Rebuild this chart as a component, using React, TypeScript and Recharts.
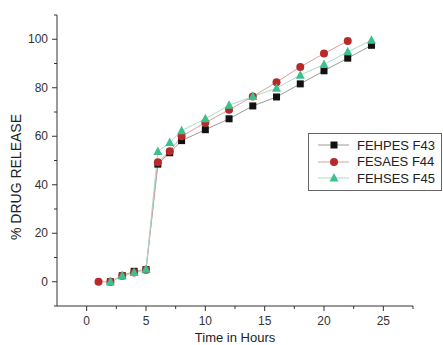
import { LineChart, Line, XAxis, YAxis, Legend } from 'recharts';

const timeF43 = [2, 3, 4, 5, 6, 7, 8, 10, 12, 14, 16, 18, 20, 22, 24];
const releaseF43 = [0, 2.5, 4.3, 5, 48.5, 53.2, 58.2, 62.7, 67.2, 72.5, 76.2, 81.6, 87, 92.2, 97.5];

const timeF44 = [1, 2, 3, 4, 5, 6, 7, 8, 10, 12, 14, 16, 18, 20, 22];
const releaseF44 = [0, 0, 2.5, 3.8, 5, 49.3, 53.8, 60, 65.6, 70.9, 76.4, 82.3, 88.6, 94.1, 99.3];

const timeF45 = [2, 3, 4, 5, 6, 7, 8, 10, 12, 14, 16, 18, 20, 22, 24];
const releaseF45 = [0, 2.5, 3.8, 5.2, 53.7, 57.4, 62.3, 67.2, 72.8, 76.4, 79.8, 85.2, 89.6, 94.8, 99.6];

const xTicks = [0, 2.5, 5, 7.5, 10, 12.5, 15, 17.5, 20, 22.5, 25, 27.5];
const yTicks = [-10, 0, 10, 20, 30, 40, 50, 60, 70, 80, 90, 100, 110];
const xLabels = [0, 5, 10, 15, 20, 25];
const yLabels = [0, 20, 40, 60, 80, 100];

const FONT = '"Liberation Sans", Arial, sans-serif';
const AXIS = '#333';

const toRows = (t: number[], v: number[]) => t.map((x, i) => ({ t: x, v: v[i] }));

const seriesList = [
  { name: 'FEHPES F43', data: toRows(timeF43, releaseF43), line: '#9a9a9a', fill: '#111111', shape: 'square' },
  { name: 'FESAES F44', data: toRows(timeF44, releaseF44), line: '#d9a0a0', fill: '#b82a2a', shape: 'circle' },
  { name: 'FEHSES F45', data: toRows(timeF45, releaseF45), line: '#a8dcc6', fill: '#3cc08c', shape: 'triangle' },
];

function Marker({ cx, cy, shape, fill }: { cx: number; cy: number; shape: string; fill: string }) {
  if (cx == null || cy == null) return null;
  if (shape === 'square') return <rect x={cx - 3.5} y={cy - 3.5} width={7} height={7} fill={fill} />;
  if (shape === 'circle') return <circle cx={cx} cy={cy} r={4} fill={fill} />;
  return <polygon points={`${cx},${cy - 5} ${cx - 4.5},${cy + 3.5} ${cx + 4.5},${cy + 3.5}`} fill={fill} />;
}

function XTick({ x, y, payload }: any) {
  const major = xLabels.includes(payload.value);
  return (
    <g>
      <line x1={x} x2={x} y1={y} y2={y + (major ? 5 : 3)} stroke={AXIS} />
      {major && (
        <text x={x} y={y + 19} textAnchor="middle" fontSize={12} fill="#333" fontFamily={FONT}>
          {payload.value}
        </text>
      )}
    </g>
  );
}

function YTick({ x, y, payload }: any) {
  const major = yLabels.includes(payload.value);
  return (
    <g>
      <line x1={x} x2={x - (major ? 5 : 3)} y1={y} y2={y} stroke={AXIS} />
      {major && (
        <text x={x - 9} y={y + 4} textAnchor="end" fontSize={12} fill="#333" fontFamily={FONT}>
          {payload.value}
        </text>
      )}
    </g>
  );
}

function LegendBox() {
  return (
    <div style={{ border: '1px solid #666', background: '#fff', width: 134, padding: '3px 0', boxSizing: 'border-box' }}>
      {seriesList.map((s) => (
        <div key={s.name} style={{ display: 'flex', alignItems: 'center', height: 16.5 }}>
          <svg width={48} height={14}>
            <line x1={9} x2={40} y1={7} y2={7} stroke={s.line} />
            <Marker cx={25} cy={7} shape={s.shape} fill={s.fill} />
          </svg>
          <span style={{ fontFamily: FONT, fontSize: 13, color: '#222' }}>{s.name}</span>
        </div>
      ))}
    </div>
  );
}

export default function App() {
  return (
    <div style={{ position: 'absolute', left: 0, top: 0, width: 443, height: 345, background: '#fff', overflow: 'hidden' }}>
      <LineChart width={443} height={345} margin={{ top: 15, right: 30, bottom: 0, left: 0 }}>
        <XAxis
          type="number"
          dataKey="t"
          domain={[-2.5, 27.5]}
          ticks={xTicks}
          interval={0}
          height={39}
          axisLine={{ stroke: AXIS }}
          tickLine={false}
          tickSize={0}
          tickMargin={0}
          tick={<XTick />}
        />
        <YAxis
          type="number"
          dataKey="v"
          domain={[-10, 110]}
          ticks={yTicks}
          interval={0}
          width={57}
          axisLine={{ stroke: AXIS }}
          tickLine={false}
          tickSize={0}
          tickMargin={0}
          tick={<YTick />}
        />
        <Legend
          layout="vertical"
          align="center"
          verticalAlign="middle"
          content={() => <LegendBox />}
          wrapperStyle={{ position: 'absolute', left: 308, top: 133, width: 135 }}
        />
        {seriesList.map((s) => (
          <Line
            key={s.name}
            data={s.data}
            dataKey="v"
            name={s.name}
            stroke={s.line}
            strokeWidth={1}
            dot={(p: any) => <Marker key={p.index} cx={p.cx} cy={p.cy} shape={s.shape} fill={s.fill} />}
            isAnimationActive={false}
          />
        ))}
      </LineChart>
      <div
        style={{
          position: 'absolute',
          left: 16,
          top: 177,
          transform: 'translate(-50%, -50%) rotate(-90deg)',
          fontFamily: FONT,
          fontSize: 14,
          color: '#222',
          whiteSpace: 'nowrap',
        }}
      >
        % DRUG RELEASE
      </div>
      <div
        style={{
          position: 'absolute',
          left: 235,
          top: 331,
          transform: 'translateX(-50%)',
          fontFamily: FONT,
          fontSize: 13,
          lineHeight: '14px',
          color: '#222',
          whiteSpace: 'nowrap',
        }}
      >
        Time in Hours
      </div>
    </div>
  );
}
